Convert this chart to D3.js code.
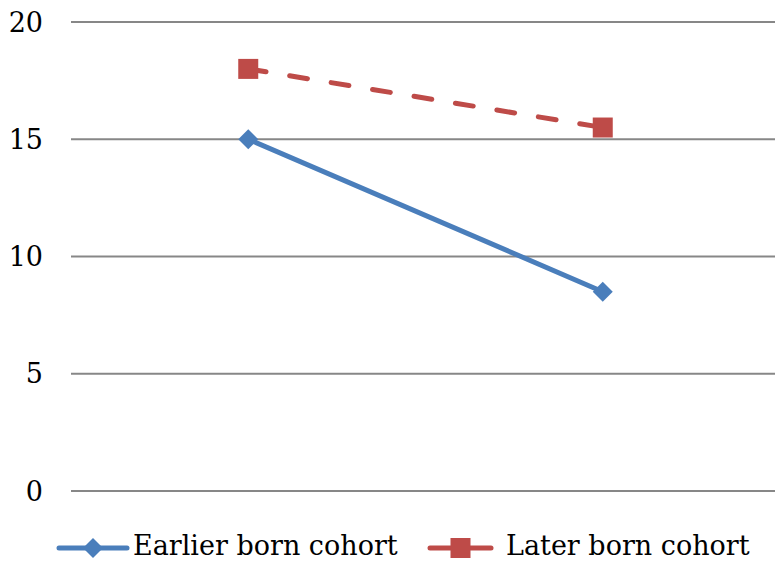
<!DOCTYPE html>
<html>
<head>
<meta charset="utf-8">
<script src="https://cdn.jsdelivr.net/npm/d3@7"></script>
<style>
  body { margin: 0; background: #fff; }
  svg text { font-family: "DejaVu Serif", serif; fill: #000; }
</style>
</head>
<body>
<div id="chart"></div>
<script>
var categories = ["1", "2"];
var earlierBorn = [15, 8.5];
var laterBorn = [18, 15.5];
var yTicks = [0, 5, 10, 15, 20];

var width = 775, height = 562;

var svg = d3.select("#chart")
    .append("svg")
    .attr("width", width)
    .attr("height", height);

var x = d3.scalePoint()
    .domain(categories)
    .range([71, 780])
    .padding(0.5);

var y = d3.scaleLinear()
    .domain([0, 20])
    .range([491, 22]);

// gridlines
svg.append("g")
    .selectAll("line")
    .data(yTicks)
    .enter().append("line")
    .attr("x1", 71)
    .attr("x2", 780)
    .attr("y1", function(d) { return y(d); })
    .attr("y2", function(d) { return y(d); })
    .style("stroke", "#878787")
    .style("stroke-width", 2);

// tick labels
svg.append("g")
    .selectAll("text")
    .data(yTicks)
    .enter().append("text")
    .attr("x", 43)
    .attr("y", function(d) { return y(d); })
    .attr("dy", "0.36em")
    .attr("text-anchor", "end")
    .attr("font-size", 27)
    .text(function(d) { return d; });

var line = d3.line()
    .x(function(d, i) { return x(categories[i]); })
    .y(function(d) { return y(d); });

var blue = "#4a7ebb", red = "#be4b48";

// later born cohort (dashed)
svg.append("path")
    .datum(laterBorn)
    .attr("d", line)
    .style("fill", "none")
    .style("stroke", red)
    .style("stroke-width", 5)
    .style("stroke-linecap", "round")
    .style("stroke-dasharray", "18,24");

svg.append("g")
    .selectAll("rect")
    .data(laterBorn)
    .enter().append("rect")
    .attr("x", function(d, i) { return x(categories[i]) - 10; })
    .attr("y", function(d) { return y(d) - 10; })
    .attr("width", 20)
    .attr("height", 20)
    .style("fill", red);

// earlier born cohort
svg.append("path")
    .datum(earlierBorn)
    .attr("d", line)
    .style("fill", "none")
    .style("stroke", blue)
    .style("stroke-width", 5)
    .style("stroke-linecap", "round");

var diamond = d3.symbol().type(d3.symbolSquare).size(200);

svg.append("g")
    .selectAll("path")
    .data(earlierBorn)
    .enter().append("path")
    .attr("d", diamond)
    .attr("transform", function(d, i) {
        return "translate(" + x(categories[i]) + "," + y(d) + ") rotate(45)";
    })
    .style("fill", blue);

// legend
var legendY = 548;
var legend = [
    {name: "Earlier born cohort", color: blue, x1: 59, x2: 127, text: 133},
    {name: "Later born cohort", color: red, x1: 430, x2: 491, text: 506}
];

legend.forEach(function(l, i) {
    var g = svg.append("g");
    g.append("line")
        .attr("x1", l.x1)
        .attr("x2", l.x2)
        .attr("y1", legendY)
        .attr("y2", legendY)
        .style("stroke", l.color)
        .style("stroke-width", 5)
        .style("stroke-linecap", "round");
    var cx = (l.x1 + l.x2) / 2;
    if (i === 0) {
        g.append("path")
            .attr("d", diamond)
            .attr("transform", "translate(" + cx + "," + legendY + ") rotate(45)")
            .style("fill", l.color);
    } else {
        g.append("rect")
            .attr("x", cx - 10)
            .attr("y", legendY - 10)
            .attr("width", 20)
            .attr("height", 20)
            .style("fill", l.color);
    }
    g.append("text")
        .attr("x", l.text)
        .attr("y", 555)
        .attr("font-size", 27)
        .text(l.name);
});
</script>
</body>
</html>
